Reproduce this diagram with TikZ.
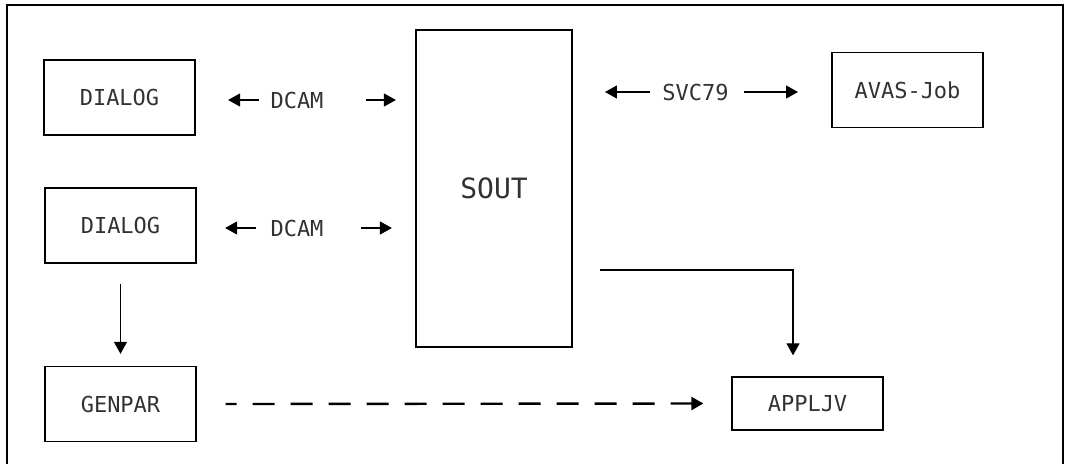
\documentclass[tikz,border=0pt]{standalone}
\usepackage{fontspec}
\setmonofont{DejaVu Sans Mono}
\usetikzlibrary{arrows.meta, positioning, calc}
\definecolor{txtcolor}{RGB}{50, 50, 50}
\tikzset{
	baseblock/.style={
		rectangle, draw=black, line width=0.65pt,
		minimum width=75.5pt, minimum height=37.5pt, inner sep=0pt,
		align=center, text=txtcolor,
		font=\ttfamily\fontsize{11}{13}\selectfont
	},
	linklabel/.style={
		inner sep=0pt, text=txtcolor,
		font=\ttfamily\fontsize{11}{13}\selectfont
	},
	arrow/.style={
		-{Triangle[length=6pt, width=6.5pt]}, line width=0.6pt, color=black
	},
	dasharrow/.style={
		-{Triangle[length=6pt, width=6.5pt]}, dash pattern=on 11pt off 8pt,
		dash phase=5.5pt, line width=1.2pt, color=black
	}
}

\begin{document}
\begin{tikzpicture}[x=0.5pt, y=-0.5pt]
		\useasboundingbox (0,0) rectangle (1069,464);
		
		%% ═══════════════════════════════
		%%  FRAME (open at the bottom)
		%% ═══════════════════════════════
		\draw[line width=0.65pt] (7,464) |- (1063,5) -- (1063,464);
		
		%% ═══════════════════════════════
		%%  BLOCKS
		%% ═══════════════════════════════
		\node[baseblock] (dialogA) at (119.5,97.5)  {DIALOG};
		\node[baseblock] (dialogB) at (120.5,225.5) {DIALOG};
		\node[baseblock] (genpar)  at (120.5,404)   {GENPAR};
		
		\node[baseblock, minimum width=78pt, minimum height=158.5pt,
		font=\ttfamily\fontsize{14}{16}\selectfont] (sout) at (494,188.5) {SOUT};
		
		\node[baseblock] (avas)    at (907.5,90)    {AVAS-Job};
		\node[baseblock, minimum height=26.5pt] (appljv) at (807.5,403.5) {APPLJV};
		
		%% ═══════════════════════════════
		%%  LINK LABELS
		%% ═══════════════════════════════
		\node[linklabel] (dcamA) at (297,100) {DCAM};
		\node[linklabel] (dcamB) at (297,228) {DCAM};
		\node[linklabel] (svc)   at (695.5,92) {SVC79};
		
		%% ═══════════════════════════════
		%%  ARROWS
		%% ═══════════════════════════════
		
		% DIALOG <-> SOUT (DCAM)
		\draw[arrow] ($(dcamA.west)+(-11,0)$) -- ++(-31,0);
		\draw[arrow] ($(dcamA.east)+(42,0)$)  -- ++(30,0);
		\draw[arrow] ($(dcamB.west)+(-14,0)$) -- ++(-31,0);
		\draw[arrow] ($(dcamB.east)+(37,0)$)  -- ++(31,0);
		
		% SOUT <-> AVAS-Job (SVC79)
		\draw[arrow] ($(svc.west)+(-12,0)$) -- ++(-45,0);
		\draw[arrow] ($(svc.east)+(15,0)$)  -- ++(54,0);
		
		% DIALOG -> GENPAR
		\draw[arrow] ($(dialogB.south)+(0,20)$) -- ($(genpar.north)+(0,-12)$);
		
		% SOUT -> APPLJV
		\coordinate (soutout) at ($(sout.east)+(27,81.5)$);
		\draw[arrow] (soutout) -| ($(appljv.north)+(-14.5,-21)$);
		
		% GENPAR -> APPLJV
		\draw[dasharrow] ($(genpar.east)+(29,0)$) -- ($(appljv.west)+(-28,0)$);
	\end{tikzpicture}
\end{document}
